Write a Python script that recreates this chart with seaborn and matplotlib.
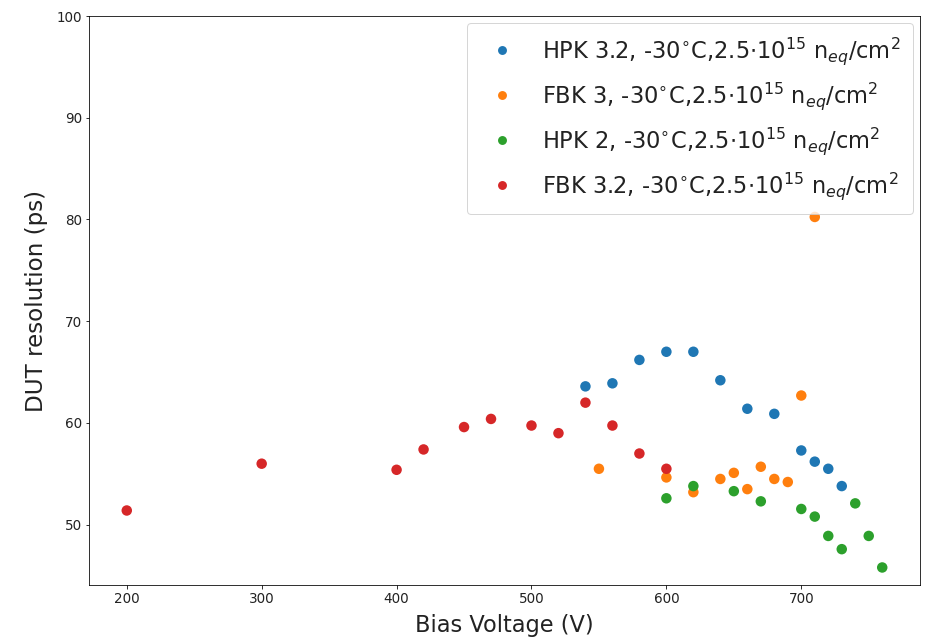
import matplotlib
matplotlib.use("Agg")
import matplotlib.pyplot as plt
import seaborn as sns
import pandas as pd

labels = [
    r'HPK 3.2, -30$^{\circ}$C,2.5$\cdot$10$^{15}$ n$_{eq}$/cm$^2$',
    r'FBK 3, -30$^{\circ}$C,2.5$\cdot$10$^{15}$ n$_{eq}$/cm$^2$',
    r'HPK 2, -30$^{\circ}$C,2.5$\cdot$10$^{15}$ n$_{eq}$/cm$^2$',
    r'FBK 3.2, -30$^{\circ}$C,2.5$\cdot$10$^{15}$ n$_{eq}$/cm$^2$',
]

hpk32_v = [540, 560, 580, 600, 620, 640, 660, 680, 700, 710, 720, 730]
hpk32_r = [63.6, 63.9, 66.2, 67.0, 67.0, 64.2, 61.4, 60.9, 57.3, 56.2, 55.5, 53.8]

fbk3_v = [550, 600, 620, 640, 650, 660, 670, 680, 690, 700, 710]
fbk3_r = [55.5, 54.65, 53.2, 54.5, 55.1, 53.5, 55.7, 54.5, 54.2, 62.7, 80.25]

hpk2_v = [600, 620, 650, 670, 700, 710, 720, 730, 740, 750, 760]
hpk2_r = [52.6, 53.8, 53.3, 52.3, 51.55, 50.8, 48.9, 47.6, 52.1, 48.9, 45.8]

fbk32_v = [200, 300, 400, 420, 450, 470, 500, 520, 540, 560, 580, 600]
fbk32_r = [51.4, 56.0, 55.4, 57.4, 59.6, 60.4, 59.75, 59.0, 62.0, 59.75, 57.0, 55.5]

frames = []
for lab, v, r in zip(labels, [hpk32_v, fbk3_v, hpk2_v, fbk32_v],
                     [hpk32_r, fbk3_r, hpk2_r, fbk32_r]):
    frames.append(pd.DataFrame({"Bias Voltage (V)": v, "DUT resolution (ps)": r, "sensor": lab}))
df = pd.concat(frames, ignore_index=True)

fig = plt.figure(figsize=(933/72, 643/72), dpi=72)
ax = fig.add_axes([89/933, 1-585/643, (920-89)/933, (585-16)/643])

palette = ["#1f77b4", "#ff7f0e", "#2ca02c", "#d62728"]
sns.scatterplot(data=df, x="Bias Voltage (V)", y="DUT resolution (ps)", hue="sensor",
                hue_order=labels, palette=palette, s=110, linewidth=0, ax=ax)

ax.set_ylim(top=100)
ax.set_xlabel("Bias Voltage (V)", fontsize=22.5, color="#222222", labelpad=8)
ax.set_ylabel("DUT resolution (ps)", fontsize=23, color="#222222", labelpad=8)
ax.tick_params(labelsize=13.5, labelcolor="#222222")

leg = ax.legend(loc="upper right", fontsize=22.5, markerscale=0.85,
                labelspacing=0.6, borderpad=0.55, borderaxespad=0.3)
leg.set_title(None)
for t in leg.get_texts():
    t.set_color("#222222")

fig.savefig("out.png", dpi=72)
